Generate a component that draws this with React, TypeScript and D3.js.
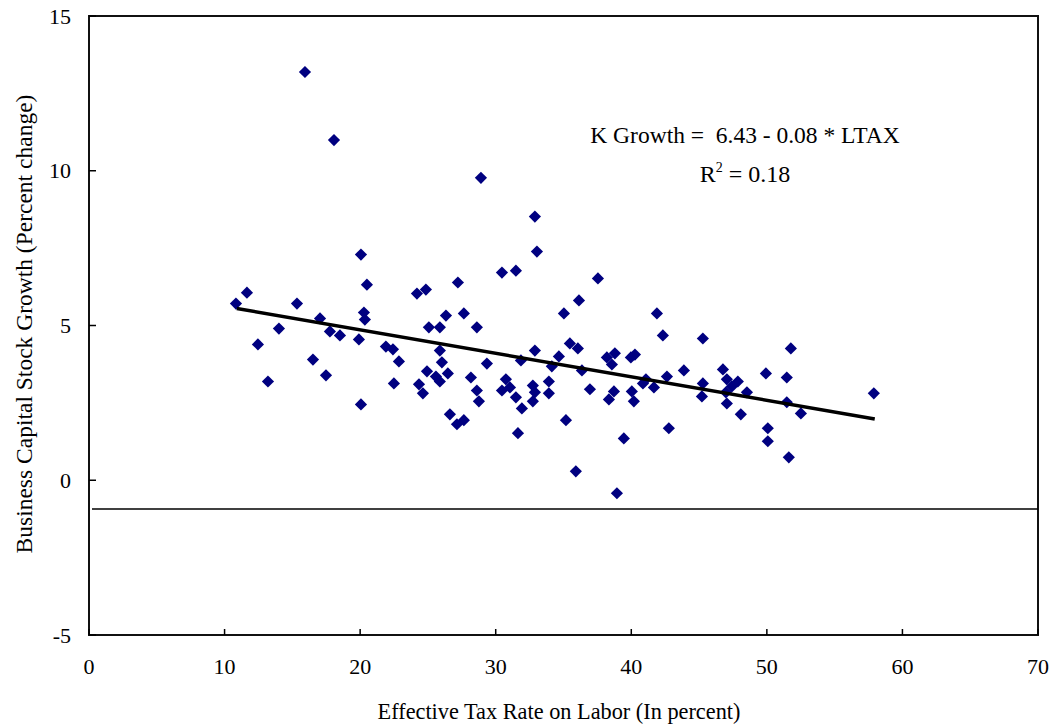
import React from "react";
import * as d3 from "d3";

// tax rate on labor (%), capital stock growth (%)
const TAX = [
  10.84, 11.65, 12.46, 13.2, 14.01, 15.34, 15.93, 16.52, 17.04, 17.48, 17.77, 18.07, 18.51,
  20.06, 19.91, 20.06, 20.5, 20.28, 20.35, 21.9, 22.42, 22.86, 22.49,
  24.19, 24.85, 24.34, 28.91, 32.89, 33.04, 30.46, 31.49, 37.54, 27.21, 36.14, 35.03, 26.33,
  27.65, 25.07, 25.88, 28.61, 25.88, 26.03, 29.35, 31.86, 32.89, 34.66, 35.47, 36.06, 36.36,
  34.14, 24.93, 25.59, 26.47, 25.88, 24.63, 28.17, 30.75, 31.05, 30.46, 28.61, 28.76, 31.49,
  32.74, 32.89, 32.74, 33.92, 33.92, 36.95, 31.93, 26.62, 27.14, 27.65, 31.64, 35.18, 35.91,
  41.89, 42.33, 45.28, 38.2, 38.79, 38.57, 39.97, 40.27, 38.35, 38.72, 40.04, 40.19, 41.08,
  40.86, 41.67, 42.63, 43.88, 45.28, 45.21, 46.76, 47.05, 47.86, 47.42, 46.98, 47.05, 48.53,
  48.08, 49.93, 50.07, 50.07, 39.45, 42.77, 38.94,
  51.77, 51.47, 51.47, 52.51, 51.62, 57.89,
];
const GROWTH = [
  5.71, 6.06, 4.39, 3.19, 4.9, 5.71, 13.19, 3.9, 5.23, 3.39, 4.81, 10.99, 4.68,
  7.29, 4.55, 2.45, 6.32, 5.42, 5.19, 4.32, 4.23, 3.84, 3.13,
  6.03, 6.16, 3.1, 9.77, 8.52, 7.39, 6.71, 6.77, 6.52, 6.39, 5.81, 5.39, 5.32,
  5.39, 4.94, 4.94, 4.94, 4.19, 3.81, 3.77, 3.87, 4.19, 4.0, 4.42, 4.26, 3.55,
  3.68, 3.52, 3.35, 3.45, 3.19, 2.81, 3.32, 3.26, 3.0, 2.9, 2.9, 2.55, 2.68,
  3.06, 2.84, 2.55, 3.19, 2.81, 2.94, 2.32, 2.13, 1.81, 1.94, 1.52, 1.94, 0.29,
  5.39, 4.68, 4.58, 3.97, 4.1, 3.74, 3.97, 4.06, 2.61, 2.87, 2.87, 2.55, 3.26,
  3.13, 3.0, 3.35, 3.55, 3.13, 2.71, 3.58, 3.26, 3.19, 3.03, 2.84, 2.48, 2.84,
  2.13, 3.45, 1.68, 1.26, 1.35, 1.68, -0.42,
  4.26, 3.32, 2.52, 2.16, 0.74, 2.81,
];

// fitted line endpoints and the reference horizontal line
const FIT_X = [10.9, 57.96];
const FIT_Y = [5.55, 1.98];
const REF_LINE = -0.93;

const X_TICKS = [0, 10, 20, 30, 40, 50, 60, 70];
const Y_TICKS = [-5, 0, 5, 10, 15];

const FONT = "'Liberation Serif', 'Times New Roman', serif";
const NAVY = "#000080";

export default function App() {
  const width = 1058;
  const height = 727;
  const m = { left: 89, right: 1038, top: 16, bottom: 635 };

  const x = d3.scaleLinear().domain([0, 70]).range([m.left, m.right]);
  const y = d3.scaleLinear().domain([-5, 15]).range([m.bottom, m.top]);

  const diamond = d3.symbol().type(d3.symbolDiamond2).size(95)();
  const fit = d3.line<number>().x((d) => x(d)).y((_, i) => y(FIT_Y[i]));

  return (
    <svg
      width={width}
      height={height}
      style={{ position: "absolute", left: 0, top: 0, background: "#fff" }}
      fontFamily={FONT}
    >
      {/* frame */}
      <rect
        x={m.left}
        y={m.top}
        width={m.right - m.left}
        height={m.bottom - m.top}
        fill="none"
        stroke="#111"
        strokeWidth={2}
      />

      {/* ticks, pointing inward */}
      {X_TICKS.map((t) => (
        <g key={"x" + t}>
          <line x1={x(t)} x2={x(t)} y1={m.bottom} y2={m.bottom - 6} stroke="#000" strokeWidth={1.5} />
          <text x={x(t)} y={674} textAnchor="middle" fontSize={22}>
            {t}
          </text>
        </g>
      ))}
      {Y_TICKS.map((t) => (
        <g key={"y" + t}>
          <line x1={m.left} x2={m.left + 7} y1={y(t)} y2={y(t)} stroke="#000" strokeWidth={1.5} />
          <text x={71} y={y(t) + 7.5} textAnchor="end" fontSize={22}>
            {t}
          </text>
        </g>
      ))}

      {/* horizontal reference line */}
      <line x1={m.left + 3} x2={m.right} y1={y(REF_LINE)} y2={y(REF_LINE)} stroke="#000" strokeWidth={1.5} />

      {/* points */}
      {TAX.map((t, i) => (
        <path key={i} d={diamond!} transform={`translate(${x(t)},${y(GROWTH[i])})`} fill={NAVY} />
      ))}

      {/* fitted line */}
      <path d={fit(FIT_X)!} stroke="#000" strokeWidth={3.5} fill="none" />

      {/* equation */}
      <text x={745} y={143} textAnchor="middle" fontSize={23.5} style={{ whiteSpace: "pre" }}>
        {"K Growth =  6.43 - 0.08 * LTAX"}
      </text>
      <text x={745} y={182} textAnchor="middle" fontSize={24}>
        R<tspan dy={-10} fontSize={14}>2</tspan>
        <tspan dy={10}>{" = 0.18"}</tspan>
      </text>

      {/* axis titles */}
      <text x={559} y={719} textAnchor="middle" fontSize={22.3}>
        Effective Tax Rate on Labor (In percent)
      </text>
      <text transform="translate(32,324) rotate(-90)" textAnchor="middle" fontSize={23.5}>
        Business Capital Stock Growth (Percent change)
      </text>
    </svg>
  );
}
